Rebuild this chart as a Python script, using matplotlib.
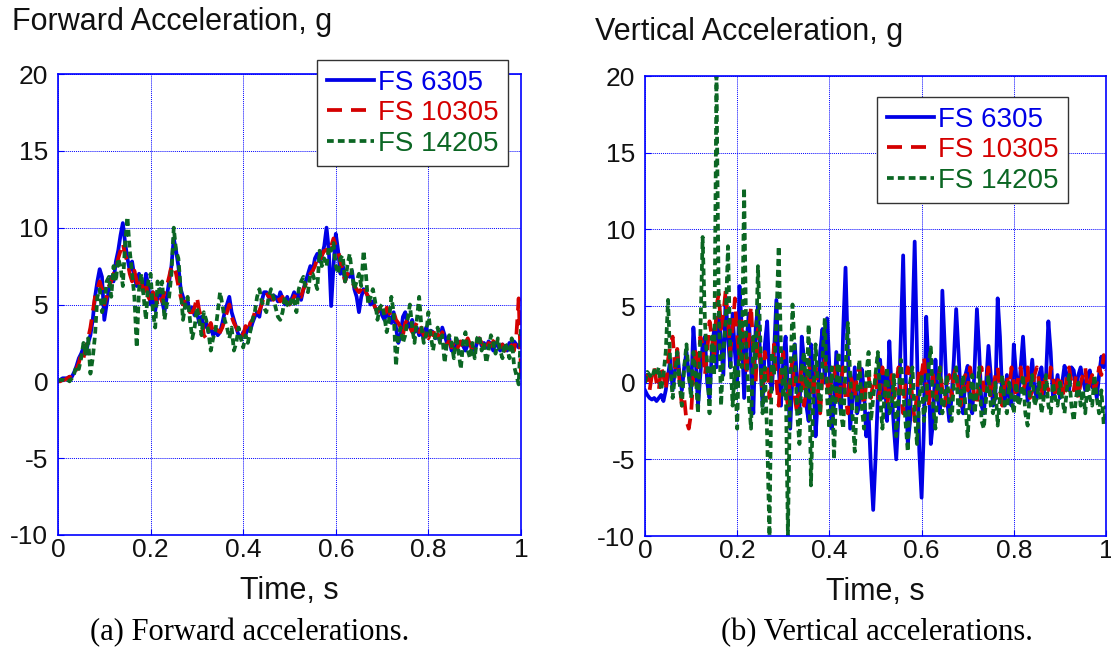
import numpy as np
import matplotlib.pyplot as plt

# sample times (s)
t_fwd = np.linspace(0, 1, 201)
t_vert = np.linspace(0, 1, 201)

labels = ['FS 6305', 'FS 10305', 'FS 14205']
colors = ['#0000e6', '#d40000', '#0b6623']

# forward acceleration, g
fwd_6305 = [
    0.0, 0.1, 0.2, 0.2, 0.2, 0.3, 0.3, 0.6, 1.0, 1.5, 1.8, 2.2, 1.8, 2.5, 3.0, 4.0, 5.5, 6.5, 7.3, 6.8,
    4.0, 5.0, 6.0, 6.8, 6.5, 7.8, 8.5, 9.5, 10.3, 9.0, 8.0, 7.2, 7.8, 6.8, 6.2, 7.0, 6.5, 5.8, 7.0, 6.2,
    5.0, 5.8, 4.6, 5.5, 6.0, 5.2, 4.5, 5.5, 6.5, 7.5, 9.3, 8.5, 7.5, 6.0, 5.5, 4.8, 5.2, 4.5, 4.8, 4.3,
    4.5, 3.8, 4.2, 3.5, 3.8, 3.2, 3.5, 3.0, 3.3, 3.0, 3.2, 3.8, 4.5, 5.0, 5.5, 4.5, 4.0, 3.5, 3.0, 2.8,
    3.2, 3.0, 3.5, 3.3, 3.8, 4.2, 4.5, 4.2, 5.2, 5.8, 5.8, 5.5, 5.3, 5.6, 5.5, 5.2, 5.8, 5.4, 5.0, 5.5,
    5.0, 5.4, 5.8, 5.5, 5.7, 5.3, 6.0, 6.5, 7.0, 7.5, 7.2, 8.0, 8.3, 7.8, 8.2, 8.8, 10.0, 8.5, 4.9, 7.5,
    9.6, 8.5, 7.0, 7.5, 6.5, 7.0, 6.8, 7.2, 6.0, 5.5, 4.5, 5.5, 6.0, 5.8, 5.5, 5.0, 5.2, 4.8, 4.5, 4.8,
    4.3, 4.0, 4.5, 4.2, 3.8, 4.5, 3.5, 2.5, 3.0, 4.2, 4.5, 3.8, 3.5, 4.0, 3.2, 3.5, 3.0, 3.2, 2.8, 3.5,
    3.0, 3.3, 3.2, 2.8, 3.0, 2.6, 3.5, 3.0, 2.5, 2.8, 2.0, 2.4, 2.2, 2.6, 2.5, 2.3, 2.0, 2.4, 2.5, 2.2,
    2.0, 2.5, 2.8, 2.3, 2.5, 2.2, 2.6, 2.4, 2.0, 2.5, 2.3, 2.0, 2.4, 2.2, 2.0, 2.5, 2.3, 2.6, 2.4, 2.2,
    2.5]
fwd_10305 = [
    0.0, 0.0, 0.1, 0.1, 0.2, 0.3, 0.2, 0.5, 0.8, 1.2, 1.8, 1.5, 2.2, 2.8, 3.5, 4.5, 5.5, 6.0, 6.5, 6.0,
    5.0, 5.5, 6.2, 6.5, 7.0, 7.2, 8.0, 8.5, 9.0, 8.2, 7.8, 7.0, 6.5, 7.2, 6.5, 6.0, 6.5, 5.8, 6.3, 5.5,
    5.2, 5.8, 5.5, 5.0, 5.5, 5.2, 5.8, 6.2, 6.8, 7.5, 7.5, 7.0, 6.2, 5.5, 5.0, 5.2, 4.8, 4.5, 4.5, 4.8,
    5.5, 4.6, 4.2, 3.0, 2.8, 3.5, 3.8, 3.2, 3.5, 3.3, 3.2, 3.5, 4.0, 4.5, 5.0, 4.2, 3.8, 3.5, 3.2, 3.4,
    3.0, 3.6, 3.2, 3.8, 4.0, 4.5, 4.2, 4.6, 5.0, 5.5, 5.8, 5.5, 5.6, 5.3, 5.7, 5.5, 5.2, 5.5, 5.0, 5.3,
    5.0, 5.2, 5.5, 5.8, 5.6, 5.5, 6.0, 6.3, 6.8, 7.0, 7.2, 7.5, 8.0, 7.8, 8.2, 8.5, 8.5, 9.0, 8.8, 9.3,
    8.8, 8.5, 7.8, 7.2, 6.5, 7.0, 6.8, 6.5, 6.2, 6.0, 5.8, 6.0, 6.3, 5.8, 5.5, 5.0, 5.2, 4.8, 4.5, 4.8,
    4.5, 4.3, 4.8, 4.5, 4.2, 4.5, 4.0, 3.8, 3.5, 3.0, 3.8, 4.0, 3.5, 3.2, 3.5, 3.8, 3.2, 3.5, 3.0, 3.2,
    2.8, 3.2, 3.0, 3.5, 3.0, 2.8, 3.2, 2.8, 2.5, 2.6, 2.2, 2.5, 2.0, 2.3, 2.6, 2.2, 2.5, 2.8, 2.4, 2.0,
    2.2, 2.5, 2.8, 2.5, 2.2, 2.0, 2.5, 2.3, 2.6, 2.8, 2.5, 2.2, 2.4, 2.0, 2.2, 2.5, 2.3, 2.0, 3.0, 5.4,
    0.5]
fwd_14205 = [
    0.0, 0.1, 0.1, 0.0, 0.1, 0.0, 0.2, 0.5, 1.0, 0.8, 1.5, 2.5, 1.8, 2.8, 0.5, 1.5, 3.0, 5.5, 6.0, 4.5,
    5.0, 6.5, 6.8, 5.5, 7.5, 6.5, 8.0, 7.5, 6.2, 9.0, 10.7, 8.5, 7.0, 5.5, 2.2, 6.0, 7.0, 5.5, 4.0, 6.5,
    7.0, 4.5, 3.5, 6.5, 5.8, 6.5, 4.0, 5.0, 5.5, 7.0, 10.0, 8.5, 8.0, 6.0, 4.0, 5.0, 5.5, 4.0, 2.8, 3.5,
    4.8, 4.0, 3.0, 4.5, 4.0, 3.2, 2.0, 2.8, 3.3, 4.5, 5.8, 5.0, 4.0, 3.5, 2.8, 3.5, 2.0, 2.5, 3.5, 2.8,
    2.2, 3.0, 2.5, 3.2, 4.0, 4.5, 5.5, 6.0, 5.2, 4.8, 4.5, 5.5, 6.0, 5.5, 4.8, 4.2, 4.0, 4.5, 5.5, 5.0,
    4.8, 5.5, 5.2, 4.5, 6.0, 6.5, 6.8, 6.0, 5.8, 7.0, 7.0, 6.5, 6.0, 8.5, 7.5, 8.0, 7.5, 8.8, 8.5, 9.0,
    7.5, 7.0, 8.0, 8.2, 6.5, 7.5, 8.3, 7.0, 6.0, 6.5, 7.0, 6.2, 8.5, 7.0, 5.0, 5.5, 6.0, 5.2, 4.0, 4.8,
    5.0, 4.2, 3.2, 4.0, 5.5, 4.5, 1.0, 3.0, 3.5, 2.5, 3.0, 4.0, 5.0, 3.5, 2.5, 4.0, 5.5, 3.5, 2.5, 3.0,
    4.5, 3.0, 2.0, 3.0, 3.5, 2.5, 3.0, 1.2, 2.5, 3.0, 2.5, 1.5, 3.0, 2.0, 0.8, 2.5, 3.2, 2.0, 1.5, 2.5,
    1.5, 2.8, 3.0, 2.0, 2.5, 1.2, 2.0, 3.0, 2.5, 1.8, 2.8, 2.0, 1.5, 2.5, 2.2, 1.5, 2.8, 1.0, 0.4, -0.2,
    3.5]

# vertical acceleration, g
vert_6305 = [
    -0.5, -0.8, -1.0, -1.1, -1.0, -1.2, -1.0, -0.8, -1.2, -0.5, 0.5, 1.5, -0.5, 0.8, 2.0, 0.5, -0.5, 1.0, 2.0, 0.5,
    -0.5, 3.6, 1.5, -1.5, 0.5, 2.5, 3.0, 0.0, -1.0, 2.0, 3.5, 1.0, 4.5, 2.5, 0.5, 5.6, 3.0, 1.0, 4.5, 2.0,
    0.0, 6.3, 3.5, -1.0, 2.5, 4.5, 1.0, -2.0, 3.5, 5.0, 1.5, -1.5, 2.5, 4.0, 0.5, -0.5, 2.0, 5.4, 1.0, -1.5,
    1.5, 3.0, -0.5, -3.0, 0.5, 2.5, 0.0, -2.0, 3.0, 1.5, -1.5, -2.5, 2.5, 0.5, -3.5, -1.0, 2.0, 3.5, 0.0, 4.2,
    1.0, -3.0, -1.5, 2.0, -0.5, -2.0, 3.5, 7.5, 2.0, -3.0, -1.0, 1.0, -2.0, -1.5, 0.9, -0.5, -3.5, -2.0, -5.5, -8.3,
    -5.0, -1.0, 1.5, -1.0, 0.5, -2.5, 2.7, -0.5, -3.0, -5.0, -2.0, 3.0, 8.3, 1.0, -4.0, -2.5, 3.5, 9.2, 2.0, -4.5,
    -7.5, -3.0, 4.3, 1.0, -4.0, -2.5, 1.5, -1.0, -2.0, 6.0, 2.5, -1.0, -2.5, -1.0, 1.5, 4.8, 2.0, -1.0, -2.0, 0.5,
    1.1, -1.5, -2.0, 1.0, 4.8, 2.0, -1.5, -2.0, 0.0, 2.4, 0.5, -1.5, -1.0, 5.5, 3.0, -1.0, -1.5, 0.5, -1.0, -1.5,
    2.5, 0.5, -1.0, 1.0, 3.0, 0.5, -1.2, 0.0, 1.5, -0.5, -1.0, 0.5, 1.0, -0.8, 0.5, 4.0, 2.0, -1.0, -0.5, 0.5,
    -1.0, 0.0, 1.1, 0.5, -0.5, 1.0, 0.8, -0.5, 0.5, 1.0, 0.2, -0.5, 0.5, 0.8, -0.3, 0.0, -1.0, 0.5, 1.7, 1.0,
    1.5]
vert_10305 = [
    0.0, 0.5, -0.5, 0.5, 1.0, 0.0, -0.5, 1.0, 0.5, -0.5, 1.5, 2.5, 3.0, 1.0, 2.2, 0.0, -1.5, -1.0, -2.5, -3.0,
    -2.0, 0.5, 2.0, 1.0, 3.0, 2.5, 0.5, 2.0, 4.0, 3.0, 1.5, 5.0, 5.8, 3.5, 4.5, 6.0, 4.0, 2.0, 3.5, 5.5,
    3.0, 1.5, 4.0, 2.5, 0.5, 3.0, 5.0, 2.0, 0.0, 3.5, 1.5, -0.5, 2.0, 1.0, -1.0, 0.5, 2.5, 0.0, -1.5, 1.0,
    2.0, -0.5, -1.5, 0.5, 1.5, -1.0, -2.0, 0.0, 1.0, -1.5, -0.5, 1.5, 0.0, -1.0, 1.0, -0.5, -2.0, 0.5, 1.5, 0.0,
    -1.0, 0.5, 1.0, -0.5, -1.5, 0.0, 1.0, -1.0, -2.0, 0.5, 0.0, -1.0, 0.5, 1.0, -0.5, -1.5, 0.0, 0.5, -1.0, 0.0,
    0.5, -1.0, -0.5, 1.0, 0.0, -1.5, -0.5, 0.5, -1.0, 0.0, 1.0, -0.5, -2.0, 0.0, 1.0, 0.5, -1.0, -2.5, -0.5, 1.0,
    0.5, 1.7, 0.0, -1.5, -0.5, 0.5, -1.0, 0.0, 1.0, -0.5, -1.5, 0.0, 0.5, -1.0, 0.5, 1.0, -0.5, -1.5, 0.0, 0.5,
    -0.5, 1.0, 0.0, -1.0, -1.5, 0.5, 1.0, -0.5, 0.0, 1.0, -1.0, -0.5, 0.5, 1.0, -0.5, -1.5, 0.0, 0.5, -0.5, 1.0,
    0.0, -1.0, 0.5, 1.0, -0.5, 0.0, 1.0, -1.0, -0.5, 0.5, 1.0, 0.0, -1.0, 0.5, 0.0, -0.5, 1.0, 0.5, -1.0, 0.0,
    0.5, -0.5, -1.0, 0.5, 1.0, 0.0, -0.5, 0.5, -1.0, 0.0, 0.5, 1.0, -0.5, 0.0, 0.5, -0.5, 0.0, 1.0, 0.5, 1.8,
    0.8]
vert_14205 = [
    0.0, 0.7, 0.5, 0.3, 0.8, 0.5, 1.0, -0.5, 0.5, 2.0, 5.4, 1.0, -1.0, 0.5, 2.0, 0.0, -1.5, 1.0, 2.5, 0.5,
    -1.0, 2.0, 0.5, -2.0, 3.0, 9.5, 4.0, 1.0, -2.0, 3.0, 0.5, 20.0, 5.0, -1.5, 2.0, 4.0, 8.9, 2.0, -1.5, 1.0,
    -3.0, 4.0, 1.0, 12.7, 2.0, -1.0, -3.0, 3.0, 1.0, 7.6, 3.0, -2.0, 1.0, -3.5, -10.0, 2.0, 0.5, 4.0, 8.9, 2.0,
    -1.0, 1.0, -10.0, 0.0, 5.1, 2.0, -2.0, -4.0, 1.0, 2.0, -1.0, 3.8, -6.7, -1.0, 2.5, 0.0, -2.0, 1.5, 4.2, -1.0,
    -3.0, 1.0, -5.0, 0.0, 2.0, -2.0, -3.0, 1.0, 3.9, 0.5, -2.0, -4.5, -1.0, 1.5, -1.5, -3.0, 0.5, 2.0, -2.5, -1.0,
    0.5, 2.0, -1.0, -3.0, -0.5, 1.0, -2.0, -1.5, 0.5, -3.5, -1.0, 1.5, -0.5, -2.5, -4.5, 0.0, 1.0, -2.0, -4.0, -1.0,
    0.5, -2.5, -1.0, 1.0, 2.3, -1.5, -3.0, 0.0, 1.0, -2.0, -1.0, 0.5, -1.5, -2.5, 0.0, 1.0, -2.0, -1.0, 0.5, -1.5,
    -3.5, -1.0, 0.5, -2.0, -0.5, 1.0, -2.5, -3.0, -1.0, 0.5, -1.5, -2.0, 0.0, -2.8, -1.0, 0.5, -1.5, -2.0, 0.0, -1.0,
    -2.0, 0.0, -1.5, -1.0, 0.5, -2.0, -2.8, -0.5, 0.5, -1.5, -1.0, 0.0, -2.0, -1.0, 0.5, -1.5, -2.0, 0.0, -1.0, -1.5,
    0.0, -1.0, -2.0, -0.5, 0.5, -1.5, -2.5, -1.0, 0.0, -1.5, -0.5, -2.0, 0.0, -1.0, -1.5, 0.5, -1.0, -2.0, -0.5, -2.7,
    -1.5]

xticks = [0, 0.2, 0.4, 0.6, 0.8, 1]
xticklabels = ['0', '0.2', '0.4', '0.6', '0.8', '1']
yticks = [-10, -5, 0, 5, 10, 15, 20]

styles = ['-', (0, (4.0, 2.4)), (0, (1.8, 1.1))]

W, H = 1111, 654
plt.rcParams['font.family'] = ['Liberation Sans', 'DejaVu Sans']
plt.rcParams['axes.unicode_minus'] = False
fig = plt.figure(figsize=(W / 100, H / 100), dpi=100)


def style_axes(ax):
    ax.set_xlim(0, 1)
    ax.set_ylim(-10, 20)
    ax.set_xticks(xticks)
    ax.set_xticklabels(xticklabels)
    ax.set_yticks(yticks)
    ax.grid(True, color='#0000ff', linestyle=(0, (1, 1)), linewidth=0.7)
    for s in ax.spines.values():
        s.set_color('#0000ff')
        s.set_linewidth(1.2)
    ax.tick_params(direction='in', color='#0000ff', length=4, labelsize=19,
                   labelcolor='#111111')
    ax.tick_params(axis='x', pad=2)
    ax.tick_params(axis='y', pad=7)
    ax.set_xlabel('Time, s', fontsize=22, labelpad=10, color='#111111')


def add_legend(ax, lines, x, y):
    leg = ax.legend(lines, labels, loc='upper left', bbox_to_anchor=(x / W, 1 - y / H),
                    bbox_transform=fig.transFigure, fontsize=20, fancybox=False,
                    framealpha=1, edgecolor='#333333', handlelength=1.7,
                    handletextpad=0.15, borderpad=0.35, labelspacing=0.16,
                    borderaxespad=0)
    leg.get_frame().set_linewidth(1.0)
    for txt, ln in zip(leg.get_texts(), lines):
        txt.set_color(ln.get_color())
    leg.set_zorder(10)


# (a) forward
ax1 = fig.add_axes([58 / W, 1 - 535 / H, (521 - 58) / W, (535 - 74) / H])
lines1 = []
for y, c, ls in zip([fwd_6305, fwd_10305, fwd_14205], colors, styles):
    ln, = ax1.plot(t_fwd, y, color=c, linestyle=ls, linewidth=2.7)
    lines1.append(ln)
style_axes(ax1)
add_legend(ax1, lines1, 317, 60)

# (b) vertical
ax2 = fig.add_axes([645 / W, 1 - 536 / H, (1106 - 645) / W, (536 - 76) / H])
lines2 = []
for y, c, ls in zip([vert_6305, vert_10305, vert_14205], colors, styles):
    ln, = ax2.plot(t_vert, y, color=c, linestyle=ls, linewidth=2.7)
    lines2.append(ln)
style_axes(ax2)
add_legend(ax2, lines2, 877, 97)

fig.text(12 / W, 1 - 22 / H, 'Forward Acceleration, g', fontsize=22, va='center',
         ha='left', color='#111111')
fig.text(595 / W, 1 - 32 / H, 'Vertical Acceleration, g', fontsize=22, va='center',
         ha='left', color='#111111')

fig.text(250 / W, 1 - 633 / H, '(a) Forward accelerations.', fontsize=22,
         family='Liberation Serif', ha='center', va='center')
fig.text(877 / W, 1 - 633 / H, '(b) Vertical accelerations.', fontsize=22,
         family='Liberation Serif', ha='center', va='center')

fig.savefig('out.png', dpi=100)
